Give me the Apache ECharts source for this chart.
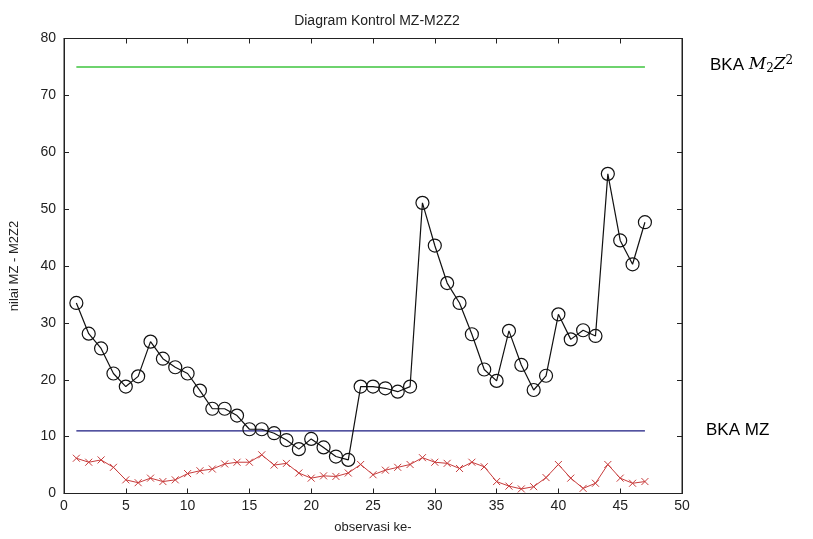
<!DOCTYPE html>
<html>
<head>
<meta charset="utf-8">
<script src="https://cdn.jsdelivr.net/npm/echarts@6/dist/echarts.min.js"></script>
<style>
  html, body { margin: 0; padding: 0; background: #fff; }
  #chart { width: 813px; height: 539px; }
</style>
</head>
<body>
<div id="chart"></div>
<script>
// Observation index 1..47
const observations = [1,2,3,4,5,6,7,8,9,10,11,12,13,14,15,16,17,18,19,20,21,22,23,24,25,26,27,28,29,30,31,32,33,34,35,36,37,38,39,40,41,42,43,44,45,46,47];

// M2Z2 statistic (black circles)
const m2z2Values = [33.5,28.1,25.5,21.1,18.8,20.6,26.7,23.7,22.2,21.1,18.1,14.9,14.9,13.7,11.3,11.3,10.6,9.4,7.8,9.6,8.1,6.5,5.9,18.8,18.8,18.5,17.9,18.8,51.1,43.6,37.0,33.5,28.0,21.8,19.8,28.6,22.6,18.2,20.7,31.5,27.1,28.7,27.7,56.2,44.5,40.3,47.7];

// MZ statistic (red crosses)
const mzValues = [6.2,5.5,5.9,4.6,2.4,1.9,2.7,2.1,2.4,3.5,4.0,4.3,5.2,5.5,5.5,6.8,5.0,5.3,3.6,2.7,3.1,3.0,3.6,5.1,3.3,4.1,4.6,5.1,6.3,5.5,5.3,4.4,5.5,4.7,2.1,1.3,0.8,1.2,2.8,5.1,2.7,0.9,1.8,5.1,2.7,1.8,2.1];

// Upper control limits
const limitM2Z2 = 75.0;
const limitMZ = 11.0;
const limitSpan = [1, 47];

const xTicks = { min: 0, max: 50, interval: 5 };
const yTicks = { min: 0, max: 80, interval: 10 };

const pair = (xs, ys) => xs.map((x, i) => [x, ys[i]]);
const flat = (v) => limitSpan.map(x => [x, v]);

const axisFont = 'Liberation Sans, Arial, sans-serif';
const boxLine = () => ({ show: true, onZero: false, lineStyle: { color: '#222', width: 1 } });
const inTicks = () => ({ show: true, inside: true, length: 5, lineStyle: { color: '#222', width: 1 } });

const chart = echarts.init(document.getElementById('chart'), null, { renderer: 'canvas' });

chart.setOption({
  animation: false,
  backgroundColor: '#fff',
  title: {
    text: 'Diagram Kontrol MZ-M2Z2',
    left: 372, top: 9, textAlign: 'center',
    textStyle: { fontFamily: axisFont, fontSize: 14, fontWeight: 'normal', color: '#222' }
  },
  grid: {
    left: 62.5, right: 131, top: 38.5, bottom: 45.5,
    show: true, borderColor: '#222', borderWidth: 1, backgroundColor: '#fff'
  },
  xAxis: [
    {
      type: 'value', position: 'bottom', ...xTicks,
      axisLine: boxLine(), axisTick: inTicks(), splitLine: { show: false },
      axisLabel: { fontFamily: axisFont, fontSize: 14, color: '#222', margin: 6 },
      name: 'observasi ke-', nameLocation: 'middle', nameGap: 27,
      nameTextStyle: { fontFamily: axisFont, fontSize: 13, color: '#222' }
    },
    {
      type: 'value', position: 'top', ...xTicks,
      axisLine: boxLine(), axisTick: inTicks(), splitLine: { show: false },
      axisLabel: { show: false }
    }
  ],
  yAxis: [
    {
      type: 'value', position: 'left', ...yTicks,
      axisLine: boxLine(), axisTick: inTicks(), splitLine: { show: false },
      axisLabel: { fontFamily: axisFont, fontSize: 14, color: '#222', margin: 8 },
      name: 'nilai MZ - M2Z2', nameLocation: 'middle', nameGap: 43, nameRotate: 90,
      nameTextStyle: { fontFamily: axisFont, fontSize: 13, color: '#222' }
    },
    {
      type: 'value', position: 'right', ...yTicks,
      axisLine: boxLine(), axisTick: inTicks(), splitLine: { show: false },
      axisLabel: { show: false }
    }
  ],
  series: [
    {
      name: 'BKA M2Z2', type: 'line', data: flat(limitM2Z2),
      xAxisIndex: 1, yAxisIndex: 1,
      symbol: 'none', lineStyle: { color: '#3ec43e', width: 1.5 }
    },
    {
      name: 'BKA MZ', type: 'line', data: flat(limitMZ),
      xAxisIndex: 1, yAxisIndex: 1,
      symbol: 'none', lineStyle: { color: '#1a1a80', width: 1.2 }
    },
    {
      name: 'MZ', type: 'line', data: pair(observations, mzValues),
      symbol: 'path://M0,0L10,10M10,0L0,10', symbolSize: 7,
      itemStyle: { color: 'none', borderColor: '#c83c3c', borderWidth: 1 },
      lineStyle: { color: '#c83c3c', width: 1 }
    },
    {
      name: 'M2Z2', type: 'line', data: pair(observations, m2z2Values),
      symbol: 'circle', symbolSize: 13,
      itemStyle: { color: 'none', borderColor: '#111', borderWidth: 1.2 },
      lineStyle: { color: '#111', width: 1.2 }
    }
  ],
  graphic: [
    {
      type: 'text', left: 710, top: 55,
      style: {
        text: '{n|BKA }{m|M}{s|2}{m|Z}{p|2}',
        rich: {
          n: { fontFamily: 'Liberation Sans, Arial, sans-serif', fontSize: 17, fill: '#000' },
          m: { fontFamily: 'DejaVu Serif, serif', fontStyle: 'italic', fontSize: 17, fill: '#000' },
          s: { fontFamily: 'DejaVu Serif, serif', fontSize: 12, fill: '#000', padding: [8, 0, 0, 0] },
          p: { fontFamily: 'DejaVu Serif, serif', fontSize: 12, fill: '#000', padding: [0, 0, 8, 0] }
        }
      }
    },
    {
      type: 'text', left: 706, top: 422,
      style: { text: 'BKA MZ', fontFamily: 'Liberation Sans, Arial, sans-serif', fontSize: 17, fill: '#000' }
    }
  ]
});
</script>
</body>
</html>
